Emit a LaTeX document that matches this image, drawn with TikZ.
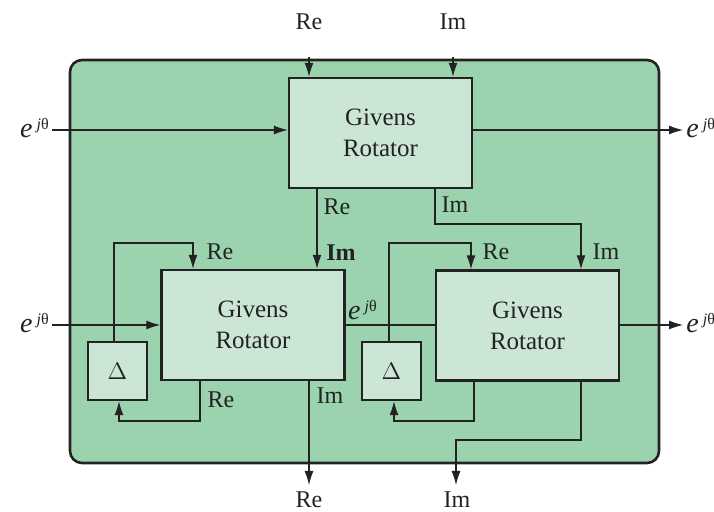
\documentclass[tikz,border=0pt]{standalone}
\usepackage{fontspec}
\setmainfont{Liberation Serif}
\usetikzlibrary{arrows.meta}
\definecolor{outerg}{HTML}{9BD3AE}
\definecolor{boxg}{HTML}{CCE6D6}
\definecolor{ink}{HTML}{222222}
\newcommand{\ejt}{{\fontsize{14}{14}\selectfont\textit{e}}\,\textsuperscript{\textit{j}θ}}
\begin{document}
\begin{tikzpicture}[x=0.5pt,y=-0.5pt,
  every node/.style={font=\fontsize{12}{13}\selectfont, text=ink, inner sep=0pt},
  outerbox/.style={draw=ink, line width=1.3pt, fill=outerg, rounded corners=6pt, minimum width=294.5pt, minimum height=201.5pt},
  gbox/.style={draw=ink, line width=1.2pt, fill=boxg, minimum width=91.5pt, minimum height=55pt, align=center, font=\fontsize{12.5}{15.5}\selectfont},
  dbox/.style={draw=ink, line width=1.2pt, fill=boxg, minimum width=29.5pt, minimum height=29pt},
  wire/.style={draw=ink, line width=0.55pt},
  arr/.style={wire, -{Latex[length=7pt,width=4.5pt]}}]
\useasboundingbox (0,0) rectangle (714,512);
\node[outerbox] (outer) at (364.5,261.5) {};

% boxes
\node[gbox] (top) at (380.5,133) {Givens\\Rotator};
\node[gbox] (gl) at (253,325) {Givens\\Rotator};
\node[gbox] (gr) at (527.5,325.5) {Givens\\Rotator};
\node[dbox] (dl) at (117.5,371) {$\Delta$};
\node[dbox] (dr) at (391.5,371) {$\Delta$};

% external labels
\node (inRe) at (309,22) {Re};
\node (inIm) at (453,22) {Im};
\node (inE1) at (35,128) {\ejt};
\node (inE2) at (35,323) {\ejt};
\node[anchor=west] (outE1) at (686,128) {\ejt};
\node[anchor=west] (outE2) at (686,323) {\ejt};
\node (outRe) at (309,500) {Re};
\node (outIm) at (457,500) {Im};

% coordinates
\coordinate (cRe) at (309,57);
\coordinate (cIm) at (453,57);
\coordinate (cE1) at (52,130);
\coordinate (cE2) at (52,325);
\coordinate (oE1) at (683,130);
\coordinate (oE2) at (683,325);

% top box
\draw[arr] (cRe) -- (top.north -| cRe);
\draw[arr] (cIm) -- (top.north -| cIm);
\draw[arr] (cE1) -- (top.west |- cE1);
\draw[arr] (top.east |- oE1) -- (oE1);
\coordinate (tRe) at (317,188);
\coordinate (tIm) at (435,188);
\draw[arr] (tRe) -- (gl.north -| tRe);
\draw[arr] (tIm) -- (435,224) -- (581,224) -- (gr.north -| 581,0);
\node at (337,207) {Re};
\node at (455,205) {Im};
\node at (341,253) {\textbf{Im}};
\node at (606,252) {Im};

% left rotator
\draw[arr] (cE2) -- (gl.west |- cE2);
\draw[arr] (dl.north -| 114,0) -- (114,243) -- (193,243) -- (gl.north -| 193,0);
\node at (220,252) {Re};
\draw[arr] (gl.south -| 200,0) -- (200,421) -- (119,421) -- (dl.south -| 119,0);
\node at (221,400) {Re};
\draw[arr] (gl.south -| 309,0) -- (309,485);
\node at (330,396) {Im};

% between
\draw[wire] (gl.east |- 0,325) -- (gr.west |- 0,325);
\node at (363,310) {\ejt};

% right rotator
\draw[arr] (dr.north -| 389,0) -- (389,243) -- (471,243) -- (gr.north -| 471,0);
\node at (496,252) {Re};
\draw[arr] (gr.south -| 474,0) -- (474,421) -- (394,421) -- (dr.south -| 394,0);
\draw[arr] (gr.south -| 581,0) -- (581,440) -- (456,440) -- (456,485);
\draw[arr] (gr.east |- oE2) -- (oE2);
\end{tikzpicture}
\end{document}
